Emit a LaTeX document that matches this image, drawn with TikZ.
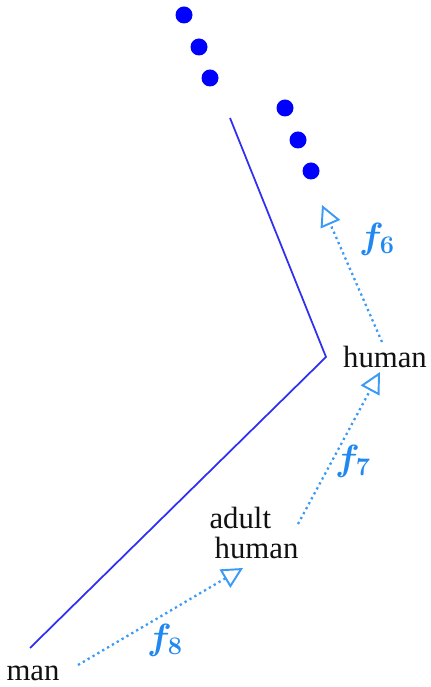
\documentclass[tikz,border=0pt]{standalone}
\usepackage{fontspec}
\usepackage{bm}
\setmainfont{Liberation Serif}
\usetikzlibrary{arrows.meta}
\definecolor{ink}{HTML}{111111}
\definecolor{chain}{HTML}{3030F0}
\definecolor{bead}{HTML}{0000FF}
\definecolor{sky}{HTML}{3A9AF5}
\definecolor{skylab}{HTML}{2088F0}

\begin{document}
\begin{tikzpicture}[
    line width=1.2pt, color=ink,
    word/.style={font=\fontsize{17.5}{20}\selectfont, text=ink, inner sep=1pt},
    link/.style={sky, line width=1.3pt, dash pattern=on 1.3pt off 1.9pt,
      -{Triangle[open, length=4.2mm, width=4.2mm, line width=1.1pt]}},
    flab/.style={font=\huge, text=skylab}]
  % fixed 8.6 cm x 13.74 cm canvas
  \path[use as bounding box] (0,0) rectangle (8.6,13.74);

  % ================= dots: the hierarchy goes on =================
  \foreach \x/\y in {3.68/13.44, 3.98/12.80, 4.20/12.18, 5.70/11.58, 5.96/10.94, 6.22/10.32} {
    \fill[bead] (\x,\y) circle (0.17);
  }

  % ================= the bent line =================
  \coordinate (top) at (4.60,11.38);
  \coordinate (bend) at (6.52,6.60);
  \coordinate (low) at (0.60,0.78);
  \draw[chain, line width=1.0pt] (top) -- (bend) -- (low);

  % ================= terms =================
  \node[word] (man) at (0.66,0.28) {man};
  \node[word, align=left] (adult) at (5.08,3.08) {adult\\[-3pt]\,human};
  \node[word] (human) at (7.70,6.60) {human};

  % ================= maps between terms =================
  \coordinate (f8s) at (1.56,0.44);
  \coordinate (f8e) at (4.86,2.38);
  \coordinate (f7s) at (5.96,3.26);
  \coordinate (f7e) at (7.60,6.30);
  \coordinate (f6s) at (7.64,6.90);
  \coordinate (f6e) at (6.44,9.64);
  \draw[link] (f8s) -- (f8e);
  \draw[link] (f7s) -- (f7e);
  \draw[link] (f6s) -- (f6e);
  \node[flab] (f8) at (3.30,0.94) {$\bm{f}_{\bm{8}}$};
  \node[flab] (f7) at (7.06,4.52) {$\bm{f}_{\bm{7}}$};
  \node[flab] (f6) at (7.54,8.96) {$\bm{f}_{\bm{6}}$};
\end{tikzpicture}
\end{document}
